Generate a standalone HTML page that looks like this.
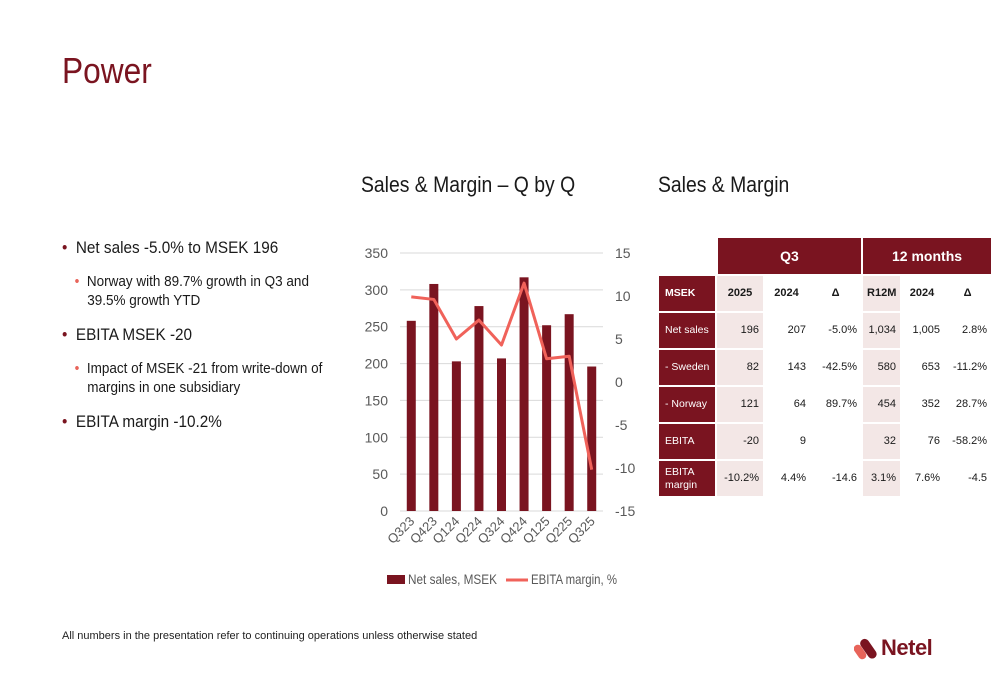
<!DOCTYPE html>
<html><head><meta charset="utf-8"><style>
body{margin:0;width:1000px;height:685px;background:#fff;font-family:"Liberation Sans",sans-serif;position:relative;overflow:hidden}
.abs{position:absolute}
.t{color:#1a1a1a}
table{border-collapse:separate;border-spacing:0;table-layout:fixed;width:332px}
td{overflow:visible;white-space:nowrap;box-sizing:border-box}
</style></head><body>
<div class="abs" style="left:62px;top:50px;font-size:36px;color:#7a1420;transform:scaleX(0.88);transform-origin:left">Power</div>
<div class="abs t" style="left:361px;top:172px;font-size:22px;transform:scaleX(0.88);transform-origin:left">Sales &amp; Margin – Q by Q</div>
<div class="abs t" style="left:658px;top:172px;font-size:22px;transform:scaleX(0.88);transform-origin:left">Sales &amp; Margin</div>
<div class="abs t" style="left:62px;top:237px;font-size:17px;line-height:21px;width:300px;transform:scaleX(0.9);transform-origin:left">
<div style="margin-bottom:14px"><span style="color:#7a1420">•</span>&nbsp; Net sales -5.0% to MSEK 196</div>
<div style="font-size:15px;line-height:19px;margin-left:14px;margin-bottom:14px;padding-left:14px;text-indent:-14px"><span style="color:#e8645a">•</span>&nbsp; Norway with 89.7% growth in Q3 and 39.5% growth YTD</div>
<div style="margin-bottom:14px"><span style="color:#7a1420">•</span>&nbsp; EBITA MSEK -20</div>
<div style="font-size:15px;line-height:19px;margin-left:14px;margin-bottom:14px;padding-left:14px;text-indent:-14px"><span style="color:#e8645a">•</span>&nbsp; Impact of MSEK -21 from write-down of margins in one subsidiary</div>
<div><span style="color:#7a1420">•</span>&nbsp; EBITA margin -10.2%</div>
</div>
<svg class="abs" id="chart" style="left:0;top:0" width="1000" height="685"></svg>
<div class="abs" style="left:62px;top:630px;font-size:11px;color:#222">All numbers in the presentation refer to continuing operations unless otherwise stated</div>
<div class="abs" style="left:854px;top:636px;height:24px">
<svg width="26" height="24" style="position:absolute;left:0;top:0"><rect x="2" y="8" width="8" height="16" rx="4" fill="#e8645a" transform="rotate(-35 6 16)"/><rect x="10" y="2" width="9" height="22" rx="4.5" fill="#7a1420" transform="rotate(-35 14 13)"/></svg>
<span style="position:absolute;left:27px;top:-1px;font-size:22px;font-weight:bold;color:#7a1420;letter-spacing:-0.5px">Netel</span></div>
<div class="abs" style="left:659px;top:238px;font-size:11px">
<table id="tbl"></table></div>
<script>
const categories=["Q323","Q423","Q124","Q224","Q324","Q424","Q125","Q225","Q325"];
const netSales=[258,308,203,278,207,317,252,267,196];
const ebitaMargin=[9.9,9.6,5.0,7.2,4.3,11.5,2.7,3.0,-10.2];
const leftTicks=[0,50,100,150,200,250,300,350];
const rightTicks=[-15,-10,-5,0,5,10,15];
const ns="http://www.w3.org/2000/svg";
const svg=document.getElementById('chart');
const y0=511,y1=253,xL=400,xR=603;
const yl=v=>y0-(v/350)*(y0-y1);
const yr=v=>y0-((v+15)/30)*(y0-y1);
const step=(xR-xL)/categories.length;
const xc=i=>xL+step*(i+0.5);
function el(t,a,txt){const e=document.createElementNS(ns,t);for(const k in a)e.setAttribute(k,a[k]);if(txt!==undefined)e.textContent=txt;svg.appendChild(e);return e;}
leftTicks.forEach(v=>{
 const g=el('line',{x1:xL,x2:xR,y1:yl(v),y2:yl(v),stroke:'#d9d9d9','stroke-width':1});
 
 const t=el('text',{x:388,y:yl(v)+5,'text-anchor':'end','font-size':14,fill:'#595959','font-family':'Liberation Sans'},v);
 
});
rightTicks.forEach(v=>{
 const t=el('text',{x:615,y:yr(v)+5,'font-size':14,fill:'#595959','font-family':'Liberation Sans'},v);
 
});
categories.forEach((c,i)=>{
 const b=el('rect',{x:xc(i)-4.5,y:yl(netSales[i]),width:9,height:y0-yl(netSales[i]),fill:'#7a1420'});
 
 const t=el('text',{x:xc(i)+4,y:522,'text-anchor':'end','font-size':13,fill:'#595959','font-family':'Liberation Sans',transform:`rotate(-45 ${xc(i)+4} 522)`},c);
 
});
const line=el('polyline',{points:ebitaMargin.map((v,i)=>xc(i)+','+yr(v)).join(' '),fill:'none',stroke:'#f0625a','stroke-width':3,'stroke-linejoin':'round'});

const lb=el('rect',{x:387,y:575,width:18,height:9,fill:'#7a1420'});

const lt=el('text',{x:408,y:584,'font-size':14,fill:'#595959','font-family':'Liberation Sans',textLength:89,lengthAdjust:'spacingAndGlyphs'},'Net sales, MSEK');

const ll=el('line',{x1:506,x2:528,y1:580,y2:580,stroke:'#f0625a','stroke-width':3});

const lt2=el('text',{x:531,y:584,'font-size':14,fill:'#595959','font-family':'Liberation Sans',textLength:86,lengthAdjust:'spacingAndGlyphs'},'EBITA margin, %');


const rows=[["MSEK","2025","2024","Δ","R12M","2024","Δ"],
["Net sales","196","207","-5.0%","1,034","1,005","2.8%"],
["- Sweden","82","143","-42.5%","580","653","-11.2%"],
["- Norway","121","64","89.7%","454","352","28.7%"],
["EBITA","-20","9","","32","76","-58.2%"],
["EBITA<br>margin","-10.2%","4.4%","-14.6","3.1%","7.6%","-4.5"]];
const widths=[58,46,47,51,39,44,47];
let h='<colgroup>'+widths.map(w=>`<col style="width:${w}px">`).join('')+'</colgroup>';
h+='<tr style="height:36px"><td style="background:#fff"></td><td colspan="3" style="background:#7a1420;color:#fff;text-align:center;font-weight:bold;font-size:14px;border-left:1px solid #fff">Q3</td><td colspan="3" style="background:#7a1420;color:#fff;text-align:center;font-weight:bold;font-size:14px;border-left:2px solid #fff">12 months</td></tr>';
rows.forEach((r,ri)=>{
 h+='<tr style="height:37px">';
 r.forEach((c,ci)=>{
  const shade=(ci==1||ci==4);
  let st='border-top:2px solid #fff;padding:0 4px;color:#1a1a1a;line-height:13px;';
  if(ci==0)st+='background:#7a1420;color:#fff;text-align:left;padding-left:6px;padding-right:0;border-right:2px solid #fff;font-size:10.5px;';
  else st+=(shade?'background:#f3e7e6;':'background:#fff;')+(ri==0?'text-align:center;font-weight:bold;':'text-align:right;');
  if(ri==0&&ci==0)st+='font-weight:bold;';
  if(ci==4)st+='border-left:2px solid #fff;';
  h+=`<td style="${st}">${c}</td>`;
 });
 h+='</tr>';
});
document.getElementById('tbl').innerHTML=h;
</script>
</body></html>
